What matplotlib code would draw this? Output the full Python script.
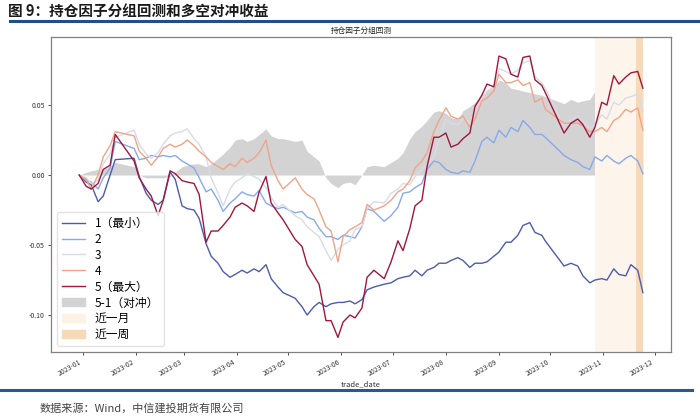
import matplotlib
matplotlib.use('Agg')
import matplotlib.pyplot as plt
import matplotlib.dates as mdates
import pandas as pd
from matplotlib.lines import Line2D
from matplotlib.patches import Patch

dates = ["2022-12-30","2023-01-03","2023-01-06","2023-01-10","2023-01-13","2023-01-17","2023-01-20","2023-01-31",
         "2023-02-03","2023-02-07","2023-02-10","2023-02-14","2023-02-17","2023-02-21","2023-02-24","2023-02-28",
         "2023-03-03","2023-03-07","2023-03-10","2023-03-14","2023-03-17","2023-03-21","2023-03-24","2023-03-28","2023-03-31",
         "2023-04-04","2023-04-07","2023-04-11","2023-04-14","2023-04-18","2023-04-21","2023-04-25","2023-04-28",
         "2023-05-05","2023-05-09","2023-05-12","2023-05-16","2023-05-19","2023-05-23","2023-05-26","2023-05-30",
         "2023-06-02","2023-06-06","2023-06-09","2023-06-13","2023-06-16","2023-06-20","2023-06-26","2023-06-30",
         "2023-07-04","2023-07-07","2023-07-11","2023-07-14","2023-07-18","2023-07-21","2023-07-25","2023-07-28",
         "2023-08-01","2023-08-04","2023-08-08","2023-08-11","2023-08-15","2023-08-18","2023-08-22","2023-08-25","2023-08-29",
         "2023-09-01","2023-09-05","2023-09-08","2023-09-12","2023-09-15","2023-09-19","2023-09-22","2023-09-26","2023-09-28",
         "2023-10-09","2023-10-13","2023-10-17","2023-10-20","2023-10-24","2023-10-27","2023-10-31",
         "2023-11-03","2023-11-07","2023-11-10","2023-11-14","2023-11-17","2023-11-21","2023-11-24"]

group1 = [0.000, -0.005, -0.007, -0.019, -0.015, 0.000, 0.011, 0.012, -0.001, -0.013,
          -0.018, -0.021, -0.018, 0.002, -0.003, -0.022, -0.024, -0.025, -0.031, -0.049,
          -0.058, -0.063, -0.069, -0.073, -0.071, -0.068, -0.070, -0.067, -0.069, -0.064,
          -0.074, -0.080, -0.084, -0.088, -0.094, -0.100, -0.094, -0.091, -0.094, -0.092,
          -0.091, -0.091, -0.090, -0.092, -0.089, -0.082, -0.080, -0.078, -0.077, -0.074,
          -0.073, -0.072, -0.068, -0.072, -0.068, -0.066, -0.063, -0.063, -0.061, -0.059,
          -0.061, -0.066, -0.063, -0.063, -0.062, -0.058, -0.055, -0.048, -0.048, -0.043,
          -0.036, -0.034, -0.041, -0.043, -0.047, -0.065, -0.063, -0.065, -0.072, -0.077,
          -0.075, -0.074, -0.075, -0.067, -0.071, -0.072, -0.064, -0.068, -0.084]

group2 = [0.000, -0.004, -0.005, -0.010, -0.002, 0.005, 0.024, 0.019, 0.011, 0.012,
          0.014, 0.013, 0.014, 0.013, 0.014, 0.010, 0.008, 0.005, -0.002, -0.012,
          -0.010, -0.018, -0.026, -0.020, -0.017, -0.012, -0.014, -0.015, -0.011, -0.020,
          -0.022, -0.024, -0.023, -0.027, -0.026, -0.030, -0.032, -0.038, -0.044, -0.044,
          -0.046, -0.043, -0.044, -0.045, -0.037, -0.024, -0.026, -0.033, -0.029, -0.023,
          -0.013, -0.012, -0.009, -0.006, 0.004, 0.010, 0.009, 0.004, 0.002, 0.001,
          0.003, 0.002, 0.010, 0.024, 0.027, 0.023, 0.032, 0.027, 0.034, 0.031,
          0.039, 0.034, 0.029, 0.029, 0.027, 0.014, 0.011, 0.009, 0.006, 0.004,
          0.013, 0.010, 0.014, 0.010, 0.008, 0.012, 0.014, 0.010, 0.001]

group3 = [0.000, -0.002, -0.006, -0.004, 0.008, 0.015, 0.027, 0.032, 0.022, 0.015,
          0.012, 0.016, 0.022, 0.028, 0.030, 0.031, 0.033, 0.026, 0.022, 0.013,
          -0.002, -0.013, -0.022, -0.010, -0.005, -0.002, 0.001, -0.001, -0.003, -0.009,
          -0.016, -0.023, -0.021, -0.029, -0.032, -0.037, -0.041, -0.044, -0.054, -0.061,
          -0.053, -0.050, -0.047, -0.039, -0.037, -0.024, -0.019, -0.020, -0.013, -0.010,
          -0.006, -0.007, -0.001, 0.004, 0.008, 0.013, 0.025, 0.040, 0.037, 0.036,
          0.040, 0.038, 0.045, 0.055, 0.060, 0.063, 0.076, 0.074, 0.072, 0.075,
          0.080, 0.082, 0.070, 0.066, 0.062, 0.035, 0.040, 0.042, 0.038, 0.033,
          0.036, 0.043, 0.040, 0.052, 0.050, 0.055, 0.056, 0.058, 0.046]

group4 = [0.000, -0.003, -0.010, 0.000, 0.013, 0.021, 0.031, 0.028, 0.017, 0.012,
          0.007, 0.013, 0.019, 0.022, 0.020, 0.022, 0.025, 0.021, 0.017, 0.013,
          0.009, 0.006, 0.004, 0.008, 0.006, 0.012, 0.009, 0.012, 0.016, 0.025,
          0.007, -0.004, -0.010, -0.002, -0.010, -0.014, -0.017, -0.025, -0.037, -0.040,
          -0.062, -0.044, -0.039, -0.037, -0.034, -0.021, -0.025, -0.022, -0.018, -0.012,
          -0.010, -0.004, 0.005, 0.010, 0.016, 0.031, 0.039, 0.048, 0.042, 0.040,
          0.042, 0.034, 0.040, 0.053, 0.055, 0.060, 0.072, 0.066, 0.066, 0.068,
          0.064, 0.066, 0.052, 0.055, 0.047, 0.037, 0.037, 0.037, 0.035, 0.031,
          0.031, 0.034, 0.031, 0.039, 0.041, 0.047, 0.045, 0.048, 0.032]

group5 = [0.000, -0.008, -0.010, -0.006, 0.004, 0.007, 0.029, 0.010, -0.002, -0.010,
          -0.015, -0.029, -0.018, 0.003, 0.001, -0.004, -0.005, -0.006, -0.014, -0.048,
          -0.040, -0.040, -0.036, -0.030, -0.023, -0.020, -0.022, -0.026, -0.012, -0.001,
          -0.020, -0.027, -0.032, -0.046, -0.051, -0.064, -0.072, -0.078, -0.104, -0.104,
          -0.116, -0.105, -0.100, -0.102, -0.095, -0.073, -0.068, -0.074, -0.062, -0.047,
          -0.054, -0.038, -0.022, -0.018, 0.006, 0.027, 0.027, 0.030, 0.020, 0.022,
          0.026, 0.030, 0.049, 0.057, 0.065, 0.063, 0.085, 0.083, 0.072, 0.070,
          0.084, 0.085, 0.068, 0.064, 0.059, 0.030, 0.037, 0.040, 0.036, 0.027,
          0.034, 0.052, 0.050, 0.071, 0.065, 0.070, 0.073, 0.074, 0.062]

hedge = [0.000, 0.002, 0.003, 0.004, 0.004, 0.006, 0.009, 0.006, 0.000, -0.002,
         -0.002, -0.002, -0.002, -0.001, 0.002, 0.006, 0.007, 0.008, 0.008, 0.006,
         0.008, 0.012, 0.015, 0.020, 0.025, 0.026, 0.024, 0.026, 0.029, 0.033,
         0.028, 0.026, 0.026, 0.024, 0.025, 0.017, 0.013, 0.010, -0.002, -0.006,
         -0.009, -0.006, -0.005, -0.007, 0.000, 0.006, 0.007, 0.006, 0.009, 0.012,
         0.016, 0.026, 0.031, 0.035, 0.039, 0.045, 0.046, 0.044, 0.041, 0.040,
         0.046, 0.049, 0.052, 0.057, 0.060, 0.063, 0.068, 0.066, 0.062, 0.061,
         0.060, 0.059, 0.058, 0.057, 0.056, 0.051, 0.054, 0.052, 0.053, 0.054,
         0.060, 0.061, 0.062, 0.063, 0.062, 0.064, 0.063, 0.062, 0.060]

group_labels = ['1（最小）', '2', '3', '4', '5（最大）']
hedge_label = '5-1（对冲）'
month_label = '近一月'
week_label = '近一周'
month_span = ('2023-10-27', '2023-11-24')
week_span = ('2023-11-20', '2023-11-24')
y_ticks = [-0.10, -0.05, 0.00, 0.05]

colors = ['#4b5cae', '#88a9ec', '#d9dbe5', '#f0a488', '#a0173e']

plt.rcParams['font.family'] = ['Noto Sans CJK SC', 'DejaVu Sans']
plt.rcParams['axes.unicode_minus'] = False

df = pd.DataFrame({'g1': group1, 'g2': group2, 'g3': group3, 'g4': group4,
                   'g5': group5, 'hedge': hedge}, index=pd.to_datetime(dates))

fig = plt.figure(figsize=(7.0, 4.19), dpi=100)
ax = fig.add_axes([51/700, 1-352/419, 620/700, 315/419])

ax.fill_between(df.index, 0, df['hedge'], color='#d3d3d3', lw=0, zorder=1)
ax.axvspan(pd.Timestamp(month_span[0]), pd.Timestamp(month_span[1]), color='#fdf5ec', lw=0, zorder=2)
ax.axvspan(pd.Timestamp(week_span[0]), pd.Timestamp(week_span[1]), color='#f6d9b9', lw=0, zorder=2.1)
for col, c in zip(['g1', 'g2', 'g3', 'g4', 'g5'], colors):
    ax.plot(df.index, df[col], color=c, lw=1.0, zorder=3)

ax.set_xlim(pd.Timestamp('2022-12-13 12:00'), pd.Timestamp('2023-12-10 10:00'))
ax.set_ylim(-0.1264, 0.0986)
ax.set_yticks(y_ticks)
ax.yaxis.set_major_formatter(matplotlib.ticker.FormatStrFormatter('%.2f'))
ax.xaxis.set_major_locator(mdates.MonthLocator())
ax.xaxis.set_major_formatter(mdates.DateFormatter('%Y-%m'))
for lab in ax.get_xticklabels():
    lab.set_rotation(30)
    lab.set_ha('right')
ax.tick_params(axis='both', labelsize=5, length=2.5, width=0.6, colors='#333333', pad=2)
for sp in ax.spines.values():
    sp.set_color('#808080')
    sp.set_linewidth(0.9)
ax.set_xlabel('trade_date', fontsize=5.5, color='#333333', labelpad=2)
ax.set_title('持仓因子分组回测', fontsize=5.5, pad=3, color='#222222')

handles = [Line2D([], [], color=c, lw=1.0) for c in colors]
handles += [Patch(color='#d3d3d3'), Patch(color='#fdf2e4'), Patch(color='#f6d9b9')]
labels = group_labels + [hedge_label, month_label, week_label]
leg = ax.legend(handles, labels, loc='lower left', fontsize=8.5, handlelength=2.0,
                labelspacing=0.25, framealpha=0.8, borderpad=0.4, handletextpad=0.8)
leg.get_frame().set_edgecolor('#dddddd')

fig.text(8/700, 1-11/419, '图 9：持仓因子分组回测和多空对冲收益', fontsize=10.5,
         fontweight='bold', va='center', ha='left', color='#1a1a1a')
fig.add_artist(Line2D([10/700, 1.0], [1-21/419, 1-21/419], color='#1f4e8c', lw=2.2,
                      transform=fig.transFigure))
fig.add_artist(Line2D([0.0, 692/700], [1-390/419, 1-390/419], color='#1f5c9a', lw=2.2,
                      transform=fig.transFigure))
fig.text(40/700, 1-408/419, '数据来源：Wind，中信建投期货有限公司', fontsize=8,
         color='#444444', style='italic', va='center', ha='left')

fig.savefig('out.png', dpi=100)
